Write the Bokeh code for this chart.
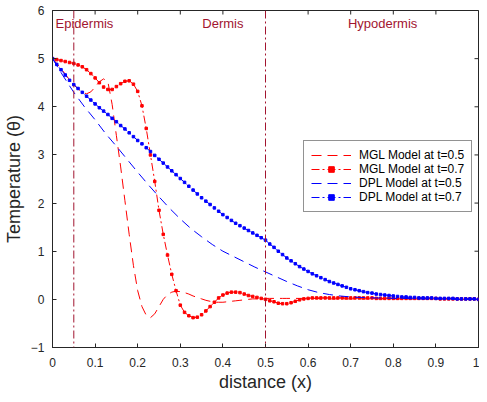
import math
from bokeh.plotting import figure
from bokeh.models import Span, FixedTicker, Range1d
from bokeh.core.properties import value
from bokeh.embed import file_html
from bokeh.resources import INLINE

# ---------------- data ----------------
x_fine = [round(i * 0.01, 2) for i in range(101)]

mgl_t05 = [5.00, 4.90, 4.79, 4.68, 4.56, 4.46, 4.37, 4.30, 4.27, 4.31,
           4.41, 4.52, 4.58, 4.52, 4.05, 3.40, 2.75, 2.05, 1.35, 0.70,
           0.18, -0.15, -0.33, -0.38, -0.30, -0.15, 0.00, 0.10, 0.15, 0.17,
           0.16, 0.14, 0.11, 0.07, 0.04, 0.01, -0.02, -0.04, -0.06, -0.06,
           -0.06, -0.05, -0.04, -0.03, -0.02, -0.01, 0.00, 0.01, 0.01, 0.02,
           0.02, 0.02, 0.02, 0.02, 0.02, 0.02, 0.02, 0.02, 0.02, 0.02,
           0.02, 0.02, 0.02, 0.01, 0.01, 0.01, 0.01, 0.01, 0.01, 0.01,
           0.01, 0.01, 0.01, 0.01, 0.01, 0.01, 0.01, 0.01, 0.01, 0.01,
           0.01, 0.01, 0.01, 0.01, 0.01, 0.01, 0.01, 0.01, 0.01, 0.01,
           0.01, 0.01, 0.01, 0.01, 0.00, 0.00, 0.00, 0.00, 0.00, 0.00,
           0.00]

mgl_t07 = [5.00, 4.98, 4.96, 4.94, 4.92, 4.90, 4.87, 4.83, 4.77, 4.69,
           4.60, 4.50, 4.41, 4.36, 4.36, 4.42, 4.48, 4.53, 4.54, 4.47,
           4.32, 4.02, 3.55, 3.00, 2.45, 1.85, 1.35, 0.92, 0.52, 0.18,
           -0.12, -0.27, -0.34, -0.38, -0.37, -0.32, -0.24, -0.15, -0.06, 0.03,
           0.09, 0.13, 0.15, 0.15, 0.14, 0.11, 0.08, 0.06, 0.04, 0.02,
           0.00, -0.03, -0.05, -0.08, -0.09, -0.09, -0.07, -0.04, -0.01, 0.01,
           0.02, 0.03, 0.03, 0.03, 0.03, 0.03, 0.03, 0.03, 0.03, 0.03,
           0.03, 0.03, 0.03, 0.03, 0.03, 0.03, 0.02, 0.02, 0.02, 0.02,
           0.02, 0.02, 0.02, 0.02, 0.02, 0.02, 0.02, 0.02, 0.02, 0.02,
           0.02, 0.01, 0.01, 0.01, 0.01, 0.01, 0.01, 0.01, 0.01, 0.01,
           0.00]

dpl_t07 = [5.00, 4.88, 4.77, 4.66, 4.55, 4.46, 4.38, 4.30, 4.22, 4.14,
           4.06, 3.98, 3.91, 3.84, 3.76, 3.69, 3.61, 3.54, 3.46, 3.38,
           3.30, 3.23, 3.15, 3.07, 2.99, 2.91, 2.83, 2.75, 2.67, 2.59,
           2.51, 2.43, 2.35, 2.27, 2.19, 2.11, 2.04, 1.97, 1.90, 1.83,
           1.76, 1.70, 1.64, 1.58, 1.53, 1.48, 1.43, 1.38, 1.33, 1.28,
           1.23, 1.15, 1.08, 1.00, 0.93, 0.86, 0.80, 0.74, 0.68, 0.63,
           0.58, 0.53, 0.49, 0.45, 0.41, 0.37, 0.34, 0.31, 0.28, 0.25,
           0.22, 0.20, 0.18, 0.16, 0.14, 0.13, 0.11, 0.10, 0.09, 0.08,
           0.07, 0.06, 0.05, 0.05, 0.04, 0.04, 0.03, 0.03, 0.03, 0.03,
           0.02, 0.02, 0.02, 0.02, 0.02, 0.01, 0.01, 0.01, 0.01, 0.01,
           0.00]

x_coarse = [round(i * 0.025, 3) for i in range(41)]
dpl_t05 = [5.00, 4.64, 4.30, 4.00, 3.73, 3.44, 3.18, 2.91, 2.64, 2.38,
           2.13, 1.89, 1.67, 1.47, 1.30, 1.14, 1.00, 0.89, 0.78, 0.67,
           0.57, 0.47, 0.37, 0.28, 0.20, 0.14, 0.10, 0.07, 0.05, 0.04,
           0.03, 0.03, 0.02, 0.02, 0.01, 0.01, 0.01, 0.01, 0.00, 0.00,
           0.00]

interface_x = [0.05, 0.5]
region_names = ["Epidermis", "Dermis", "Hypodermis"]
region_x = [0.075, 0.40, 0.775]
region_y = [5.72, 5.72, 5.72]

x_ticks = [0, 0.1, 0.2, 0.3, 0.4, 0.5, 0.6, 0.7, 0.8, 0.9, 1]
x_tick_labels = ["0", "0.1", "0.2", "0.3", "0.4", "0.5", "0.6", "0.7", "0.8", "0.9", "1"]
y_ticks = [-1, 0, 1, 2, 3, 4, 5, 6]

X_MIN, X_MAX = 0, 1
Y_MIN, Y_MAX = -1, 6

# ---------------- figure ----------------
AX = "#262626"
FONT = "Liberation Sans"

p = figure(width=479, height=394, x_range=Range1d(X_MIN, X_MAX), y_range=Range1d(Y_MIN, Y_MAX),
           output_backend="svg", toolbar_location=None,
           min_border_left=50, min_border_right=1, min_border_top=10, min_border_bottom=44)
p.xgrid.visible = False
p.ygrid.visible = False
p.outline_line_color = AX
p.outline_line_width = 1
p.outline_line_alpha = 1
p.background_fill_color = "white"
p.border_fill_color = "white"

for ax in (p.xaxis[0], p.yaxis[0]):
    ax.major_tick_in = 4
    ax.major_tick_out = 0
    ax.minor_tick_line_color = None
    ax.axis_line_color = AX
    ax.major_tick_line_color = AX
    ax.major_label_text_color = AX
    ax.major_label_text_font = FONT
    ax.major_label_text_font_size = "12px"
    ax.major_label_text_line_height = 1.0
    ax.axis_label_text_font = FONT
    ax.axis_label_text_font_size = "18px"
    ax.axis_label_text_font_style = "normal"
    ax.axis_label_text_color = AX
    ax.axis_label_text_line_height = 1.0

p.xaxis.ticker = FixedTicker(ticks=x_ticks)
p.xaxis.major_label_overrides = dict(zip(x_ticks, x_tick_labels))
p.xaxis.major_label_standoff = 10
p.xaxis.axis_label = "distance (x)"
p.xaxis.axis_label_standoff = 2

p.yaxis.ticker = FixedTicker(ticks=y_ticks)
p.yaxis.major_label_standoff = 8
p.yaxis.axis_label = "Temperature (θ)"
p.yaxis.axis_label_standoff = 4

# inward ticks on the top and right edges of the box
p.scatter(x=x_ticks, y=[Y_MAX] * len(x_ticks), marker="dash", angle=math.pi / 2,
          size=8, line_color=AX, line_width=1)
p.scatter(x=[X_MAX] * len(y_ticks), y=y_ticks, marker="dash",
          size=8, line_color=AX, line_width=1)

# interface lines
for loc in interface_x:
    p.add_layout(Span(location=loc, dimension="height", line_color="#A2142F",
                      line_width=1, line_dash="8 3 2 3"))

p.text(x=region_x, y=region_y, text=region_names, text_font=value(FONT),
       text_font_size=value("13px"), text_color="#A2142F",
       text_align="center", text_baseline="middle")

# curves
p.line(x_fine, mgl_t05, color="#FF0000", line_width=1, line_dash="10 6",
       legend_label="MGL Model at t=0.5")
p.line(x_fine, mgl_t07, color="#FF0000", line_width=1, line_dash="8 3 2 3",
       legend_label="MGL Model at t=0.7")
p.scatter(x_fine, mgl_t07, marker="square", size=2.5, color="#FF0000",
          legend_label="MGL Model at t=0.7")
p.line(x_coarse, dpl_t05, color="#0000FF", line_width=1, line_dash="10 6",
       legend_label="DPL Model at t=0.5")
p.line(x_fine, dpl_t07, color="#0000FF", line_width=1, line_dash="8 3 2 3",
       legend_label="DPL Model at t=0.7")
p.scatter(x_fine, dpl_t07, marker="square", size=2.5, color="#0000FF",
          legend_label="DPL Model at t=0.7")

lg = p.legend[0]
lg.location = (251, 135)
lg.padding = 7
lg.spacing = 0
lg.margin = 0
lg.glyph_height = 14
lg.label_height = 14
lg.glyph_width = 40
lg.label_standoff = 8
lg.border_line_color = AX
lg.border_line_width = 1
lg.background_fill_alpha = 1
lg.label_text_font = FONT
lg.label_text_font_size = "12px"
lg.label_text_color = "#000000"

open("out.html", "w").write(file_html(p, INLINE, title="plot"))
